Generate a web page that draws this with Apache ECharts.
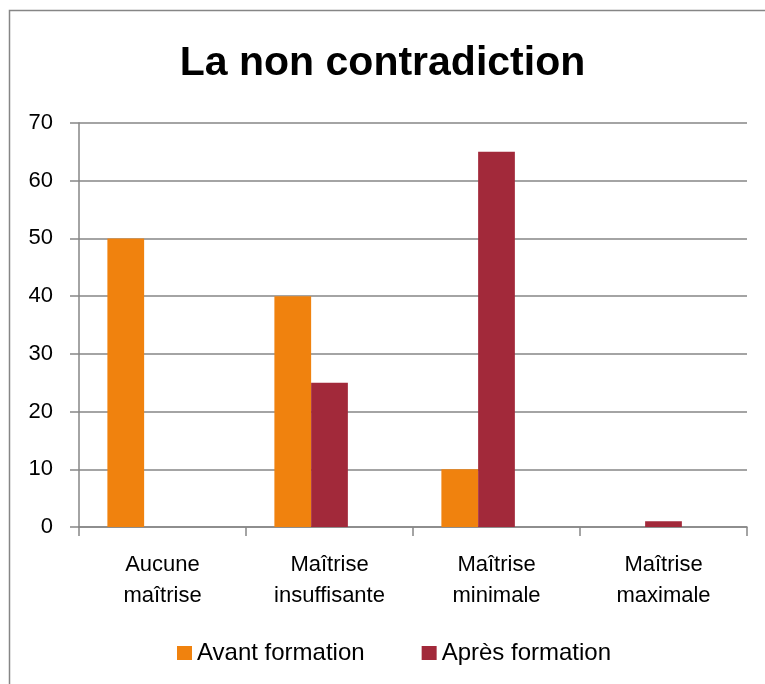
<!DOCTYPE html>
<html>
<head>
<meta charset="utf-8">
<script src="https://cdn.jsdelivr.net/npm/echarts@6/dist/echarts.min.js"></script>
<style>
  html, body { margin: 0; padding: 0; background: #fff; }
  #chart { width: 765px; height: 684px; }
</style>
</head>
<body>
<div id="chart"></div>
<script>
// Niveaux de maîtrise évalués
const categories = ['Aucune\nmaîtrise', 'Maîtrise\ninsuffisante', 'Maîtrise\nminimale', 'Maîtrise\nmaximale'];
// Pourcentages par groupe
const avantFormation = [50, 40, 10, 0];
const apresFormation = [0, 25, 65, 1];
// Troisième colonne réservée, sans valeurs
const colonneVide = [null, null, null, null];
const seriesNames = ['Avant formation', 'Après formation'];
const yTicks = { min: 0, max: 70, interval: 10 };

const FONT = 'Liberation Sans, Arial, sans-serif';
const axisGray = '#868686';

const chart = echarts.init(document.getElementById('chart'), null, { renderer: 'canvas' });
chart.setOption({
  backgroundColor: '#ffffff',
  animation: false,
  graphic: [{
    type: 'rect',
    shape: { x: 9.5, y: 10.5, width: 800, height: 720 },
    style: { fill: 'none', stroke: axisGray, lineWidth: 1.5 },
    silent: true
  }],
  title: {
    text: 'La non contradiction',
    left: 'center',
    top: 38,
    textStyle: { fontFamily: FONT, fontWeight: 'bold', fontSize: 41, color: '#000' }
  },
  legend: {
    top: 636,
    left: 172,
    itemWidth: 15,
    itemHeight: 14,
    itemGap: 57,
    icon: 'rect',
    textStyle: { fontFamily: FONT, fontSize: 24, color: '#000' },
    data: seriesNames
  },
  grid: { left: 79, right: 18, top: 123, bottom: 157, containLabel: false },
  xAxis: {
    type: 'category',
    data: categories,
    axisLine: { lineStyle: { color: axisGray, width: 1.5 } },
    axisTick: { show: true, length: 9, lineStyle: { color: axisGray, width: 1.5 } },
    axisLabel: { fontFamily: FONT, fontSize: 22, color: '#000', margin: 22, lineHeight: 31, interval: 0 }
  },
  yAxis: {
    type: 'value',
    min: yTicks.min,
    max: yTicks.max,
    interval: yTicks.interval,
    axisLine: { show: true, lineStyle: { color: axisGray, width: 1.5 } },
    axisTick: { show: true, length: 9, lineStyle: { color: axisGray, width: 1.5 } },
    axisLabel: { fontFamily: FONT, fontSize: 22, color: '#000', margin: 26 },
    splitLine: { lineStyle: { color: axisGray, width: 1.5 } }
  },
  series: [
    {
      name: seriesNames[0],
      type: 'bar',
      data: avantFormation,
      itemStyle: { color: '#F0820E' },
      barGap: '0%',
      barCategoryGap: '34%'
    },
    {
      name: seriesNames[1],
      type: 'bar',
      data: apresFormation,
      itemStyle: { color: '#A2293A' },
      barGap: '0%',
      barCategoryGap: '34%'
    },
    {
      name: 'réserve',
      type: 'bar',
      data: colonneVide,
      itemStyle: { color: '#ffffff' },
      barGap: '0%',
      barCategoryGap: '34%'
    }
  ]
});
</script>
</body>
</html>
